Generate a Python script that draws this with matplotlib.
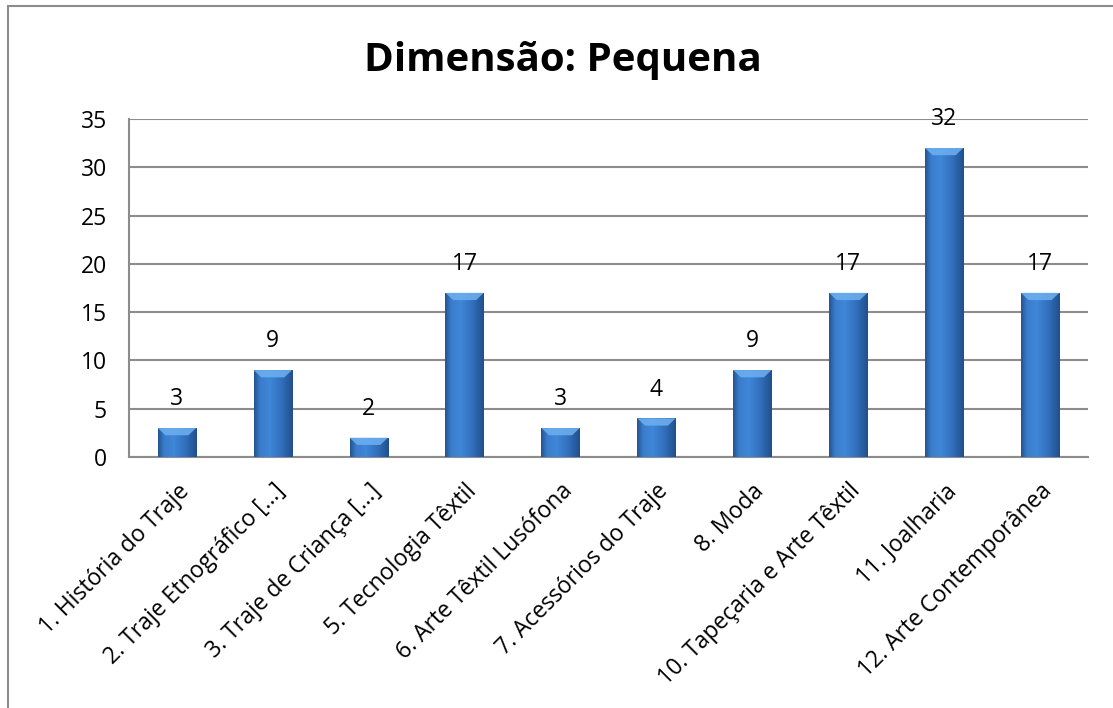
import numpy as np
import matplotlib.pyplot as plt
from matplotlib.patches import Rectangle, Polygon
from matplotlib.colors import to_rgb

plt.rcParams['font.family'] = ['Open Sans', 'DejaVu Sans']

categories = ['1. História do Traje', '2. Traje Etnográfico [...]',
              '3. Traje de Criança [...]', '5. Tecnologia Têxtil',
              '6. Arte Têxtil Lusófona', '7. Acessórios do Traje',
              '8. Moda', '10. Tapeçaria e Arte Têxtil', '11. Joalharia',
              '12. Arte Contemporânea']
values = [3, 9, 2, 17, 3, 4, 9, 17, 32, 17]
yticks = [0, 5, 10, 15, 20, 25, 30, 35]

fig = plt.figure(figsize=(11.13, 7.08), dpi=100)
ax = fig.add_axes([129 / 1113, 1 - 457 / 708, (1088 - 129) / 1113, (457 - 119) / 708])

# outer chart frame (runs off the right and bottom edges)
fig.patches.append(Rectangle((8 / 1113, -0.1), 1.2, 1 - 6 / 708 + 0.1,
                             transform=fig.transFigure, fill=False,
                             edgecolor='#8c8c8c', linewidth=1.5, zorder=0))

x = np.arange(len(categories))
width = 0.4
bars = ax.bar(x, values, width=width, color='#3573c2', zorder=2)

# horizontal shading across each bar
stops = [0.0, 0.15, 0.4, 0.7, 1.0]
cols = ['#23558f', '#3a7ccc', '#4087d8', '#3270bd', '#21508c']
pos = np.linspace(0, 1, 64)
grad = np.zeros((1, 64, 3))
for k in range(3):
    grad[0, :, k] = np.interp(pos, stops, [to_rgb(c)[k] for c in cols])

for b, v in zip(bars, values):
    x0 = b.get_x()
    im = ax.imshow(grad, extent=[x0, x0 + width, 0, v], aspect='auto',
                   interpolation='bicubic', zorder=3)
    im.set_clip_path(b)
    cap = 0.75
    ax.add_patch(Polygon([[x0, v], [x0 + width, v],
                          [x0 + width * 0.8, v - cap], [x0 + width * 0.2, v - cap]],
                         closed=True, facecolor='#6fb0f2', edgecolor='none',
                         alpha=0.85, zorder=4))
    ax.annotate(str(v), (x0 + width / 2, v), xytext=(0, 12), textcoords='offset points',
                ha='center', va='bottom', fontsize=16.5, zorder=5)

ax.set_xlim(-0.5, len(categories) - 0.5)
ax.set_ylim(0, 35)
ax.set_yticks(yticks)
ax.set_xticks(x)
ax.set_xticklabels(categories, rotation=45, ha='right', rotation_mode='anchor')
ax.tick_params(axis='both', length=0, labelsize=16.5)
ax.tick_params(axis='y', pad=16)
ax.tick_params(axis='x', pad=16)
ax.yaxis.grid(True, color='#8c8c8c', linewidth=1.5, zorder=0)
ax.set_axisbelow(True)
for s in ['top', 'right']:
    ax.spines[s].set_visible(False)
for s in ['left', 'bottom']:
    ax.spines[s].set_color('#8c8c8c')
    ax.spines[s].set_linewidth(1.5)

fig.text(563 / 1113, 1 - 60 / 708, 'Dimensão: Pequena', ha='center', va='center',
         fontsize=29, fontweight='bold')

fig.savefig('out.png', dpi=100)
